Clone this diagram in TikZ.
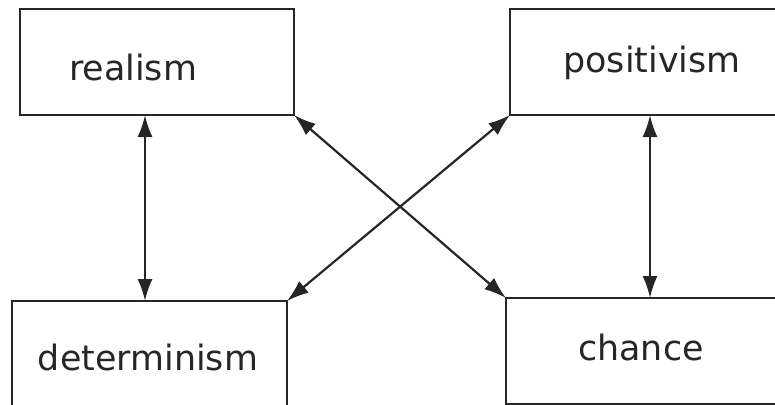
\documentclass[tikz,border=0pt]{standalone}
\usepackage{fontspec}
\setmainfont{DejaVu Sans}
\usetikzlibrary{arrows.meta}
\begin{document}
\begin{tikzpicture}[x=1bp,y=-1bp,
  box/.style={draw=black!85,line width=2.6bp,inner sep=0pt,outer sep=0pt,minimum width=#1,minimum height=106bp},
  word/.style={anchor=base,text=black!85,font=\fontsize{35}{40}\selectfont},
  link/.style={{Latex[length=22bp,width=15bp]}-{Latex[length=22bp,width=15bp]},line width=2.2bp,draw=black!85}]
\useasboundingbox (0,0) rectangle (775,404);
\clip (0,0) rectangle (775,404);
% boxes
\node[box=274bp] (realism) at (157,62) {};
\node[box=280bp] (positivism) at (650,62) {};
\node[box=275bp] (determinism) at (149.5,354) {};
\node[box=288bp] (chance) at (650,351) {};
% words
\node[word] (realismtext) at (133,80) {realism};
\node[word] (positivismtext) at (652,72) {positivism};
\node[word] (determinismtext) at (148,370) {determinism};
\node[word] (chancetext) at (641,360) {chance};
% links
\draw[link] ([xshift=-12bp]realism.south) -- ([xshift=-12bp]realism.south |- determinism.north);
\draw[link] (positivism.south) -- (chance.north);
\draw[link] (realism.south east) -- (chance.north west);
\draw[link] (positivism.south west) -- (determinism.north east);
\end{tikzpicture}
\end{document}
